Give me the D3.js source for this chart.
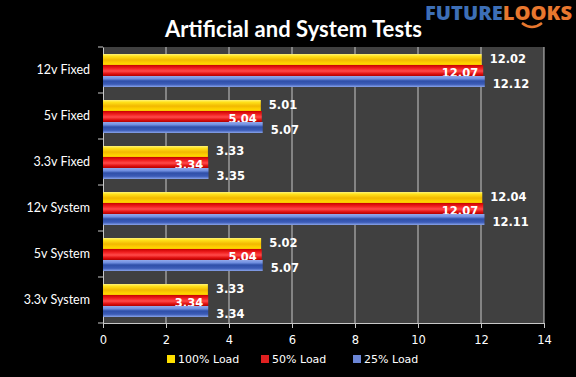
<!DOCTYPE html>
<html><head><meta charset="utf-8">
<script src="https://cdn.jsdelivr.net/npm/d3@7/dist/d3.min.js"></script>
<style>html,body{margin:0;padding:0;background:#000;}svg{display:block;}</style>
</head><body><svg id="c" width="576" height="377"></svg>
<script>
const categories = ["12v Fixed","5v Fixed","3.3v Fixed","12v System","5v System","3.3v System"];
const seriesNames = ["100% Load","50% Load","25% Load"];
const load100 = [12.02,5.01,3.33,12.04,5.02,3.33];
const load50  = [12.07,5.04,3.34,12.07,5.04,3.34];
const load25  = [12.12,5.07,3.35,12.11,5.07,3.34];
const xTicks = [0,2,4,6,8,10,12,14];
const title = "Artificial and System Tests";

const svg = d3.select("#c");
svg.append("rect").attr("width",576).attr("height",377).attr("fill","#000");

const defs = svg.append("defs");
function grad(id, stops){
  const g = defs.append("linearGradient").attr("id",id).attr("x1",0).attr("y1",0).attr("x2",0).attr("y2",1);
  stops.forEach(s=>g.append("stop").attr("offset",s[0]).attr("stop-color",s[1]));
}
grad("gY",[[0,"#fff27a"],[0.2,"#ffe21a"],[0.55,"#f2b800"],[0.85,"#ffd400"],[1,"#f5c400"]]);
grad("gR",[[0,"#c80000"],[0.3,"#f02020"],[0.55,"#ff4a4a"],[0.8,"#e01010"],[1,"#b00000"]]);
grad("gB",[[0,"#93a9ea"],[0.25,"#6f8ee0"],[0.45,"#2f4fa8"],[0.75,"#3c5cb8"],[1,"#8aa4ea"]]);
const fills = ["url(#gY)","url(#gR)","url(#gB)"];
const legendFills = ["#ffe000","#e02020","#6b86d6"];

const x = d3.scaleLinear().domain([0,14]).range([103,544]);
const y = d3.scaleBand().domain(categories).range([47,323]);
const inner = d3.scaleBand().domain(seriesNames).range([7,40]).padding(0);

// plot area
svg.append("rect").attr("x",x(0)).attr("y",47).attr("width",x(14)-x(0)).attr("height",276).attr("fill","#404040");
// gridlines
svg.append("g").selectAll("line").data(xTicks.filter(d=>d>0)).join("line")
  .attr("x1",d=>x(d)).attr("x2",d=>x(d)).attr("y1",47).attr("y2",323)
  .attr("stroke","#c8c8c8").attr("stroke-width",1);

// x axis
const xa = svg.append("g").attr("transform","translate(0,323)")
  .call(d3.axisBottom(x).tickValues(xTicks).tickSize(5).tickPadding(8));
xa.select(".domain").attr("stroke","#c8c8c8");
xa.selectAll(".tick line").attr("stroke","#c8c8c8");
xa.selectAll("text").attr("fill","#fff").attr("font-family","'DejaVu Sans',sans-serif").attr("font-size",11.5);

// y axis
const ya = svg.append("g").attr("transform","translate("+x(0)+",0)")
  .call(d3.axisLeft(y).tickSize(0).tickPadding(13));
ya.select(".domain").attr("stroke","#c8c8c8");
ya.selectAll("text").attr("fill","#fff").attr("font-family","Lato, sans-serif").attr("font-size",12.5);
svg.append("g").selectAll("line").data(d3.range(categories.length+1)).join("line")
  .attr("x1",x(0)-5).attr("x2",x(0)).attr("y1",i=>47+i*y.step()).attr("y2",i=>47+i*y.step())
  .attr("stroke","#c8c8c8");

const data = categories.map((c,i)=>({cat:c, vals:[load100[i],load50[i],load25[i]]}));
const groups = svg.append("g").selectAll("g").data(data).join("g")
  .attr("transform",d=>"translate(0,"+y(d.cat)+")");
groups.each(function(d){
  const g = d3.select(this);
  d.vals.forEach((v,k)=>{
    const by = inner(seriesNames[k]);
    const bh = inner.bandwidth();
    g.append("rect").attr("x",x(0)).attr("y",by).attr("width",x(v)-x(0)).attr("height",bh)
      .attr("fill",fills[k]);
    const t = g.append("text").attr("font-family","'DejaVu Sans',sans-serif").attr("font-weight","bold")
      .attr("font-size",11.5).attr("fill","#fff").text(v.toFixed(2));
    if(k===1){
      t.attr("x",x(v)-5).attr("y",by+bh/2+6).attr("text-anchor","end");
    } else if(k===0){
      t.attr("x",x(v)+8).attr("y",by+bh/2+3);
    } else {
      t.attr("x",x(v)+8).attr("y",by+bh/2+6);
    }
  });
});

// title
svg.append("text").attr("x",293.5).attr("y",37).attr("text-anchor","middle")
  .attr("font-family","Lato, 'Open Sans', sans-serif").attr("font-weight","bold")
  .attr("font-size",22).attr("fill","#fff").attr("textLength",257).text(title);

// logo
const logo = svg.append("text").attr("x",425).attr("y",20).attr("font-family","'Open Sans',sans-serif")
  .attr("font-weight","800").attr("font-size",19).attr("textLength",147).attr("lengthAdjust","spacingAndGlyphs");
logo.append("tspan").attr("fill","#3d6fb6").text("FUTURE");
logo.append("tspan").attr("fill","#e8772e").text("LOOKS");
svg.append("path").attr("d","M522,23 Q532,31 542,23").attr("fill","none").attr("stroke","#e8772e").attr("stroke-width",2.5);

// legend
const legX = [167,261,353];
const leg = svg.append("g").selectAll("g").data(seriesNames).join("g")
  .attr("transform",(d,i)=>"translate("+legX[i]+",355)");
leg.append("rect").attr("width",8).attr("height",8).attr("fill",(d,i)=>legendFills[i]);
leg.append("text").attr("x",11).attr("y",8).attr("fill","#fff")
  .attr("font-family","'DejaVu Sans',sans-serif").attr("font-size",11).text(d=>d);
</script></body></html>
